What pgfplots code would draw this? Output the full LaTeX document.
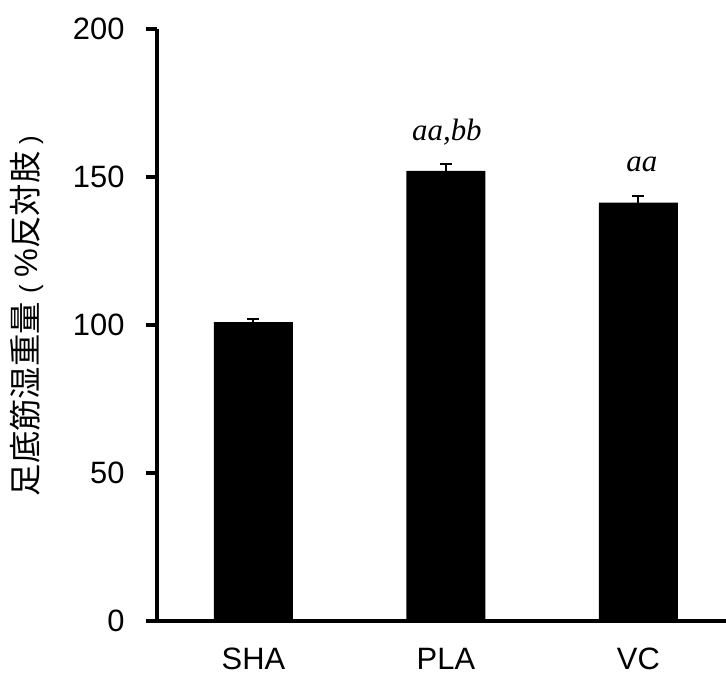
\documentclass[border=0pt]{standalone}
\usepackage{pgfplots}
\pgfplotsset{compat=1.18}
\usepackage{fontspec}
\setmainfont{Liberation Sans}
\newfontfamily\jp{Noto Sans CJK JP}
\newfontfamily\tnr{Liberation Serif}
\begin{document}
\begin{tikzpicture}
\begin{axis}[
  at={(0,0)}, anchor=south west,
  scale only axis, width=569bp, height=592bp,
  xmin=-0.501, xmax=2.455, ymin=0, ymax=200,
  axis x line=bottom, axis y line=left,
  axis line style={-, line width=3.5bp, black},
  ytick={0,50,100,150,200},
  xtick={0,1,2}, xticklabels={SHA,PLA,VC},
  xtick style={draw=none},
  tick align=outside, major tick length=11bp,
  ytick style={line width=3.5bp, black},
  /pgf/number format/assume math mode=true,
  tick label style={font=\fontsize{31}{37}\selectfont},
  yticklabel style={xshift=-18bp},
  xticklabel style={yshift=-15bp, inner sep=1bp},
  ylabel={{\jp 足底筋湿重量}\hspace{9bp}{\fontsize{26}{26}\selectfont(}\hspace{7bp}\%{\jp 反対肢}\hspace{7bp}{\fontsize{26}{26}\selectfont)}},
  ylabel style={at={(axis description cs:-0.2285,0.515)}, anchor=center, font=\fontsize{32.5}{38}\selectfont},
  ybar, bar width=79bp,
  clip=false,
]
\addplot[fill=black, draw=none,
  error bars/.cd, y dir=plus, y explicit,
  error bar style={line width=2bp, black},
  error mark options={rotate=90, mark size=6bp, line width=2bp, black}]
  coordinates {(0,101.0) +- (0,1.0) (1,152.1) +- (0,2.3) (2,141.3) +- (0,2.3)};
\node[font=\tnr\itshape\fontsize{31}{37}\selectfont, anchor=base] at (axis cs:1.005,162.3) {aa,bb};
\node[font=\tnr\itshape\fontsize{31}{37}\selectfont, anchor=base] at (axis cs:2.018,152.0) {aa};
\end{axis}
\pgfresetboundingbox
\path (-157bp,-58bp) rectangle (569bp,621bp);
\end{tikzpicture}
\end{document}
